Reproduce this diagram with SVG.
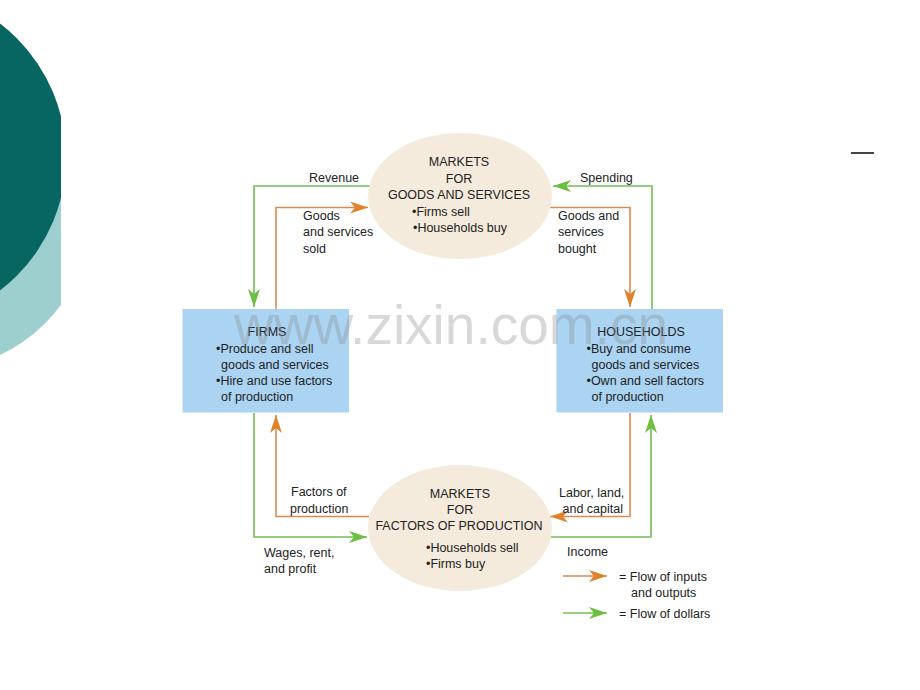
<svg xmlns="http://www.w3.org/2000/svg" width="920" height="690" viewBox="0 0 920 690">
<defs>
<style>
text{font-family:"Liberation Sans",Arial,sans-serif;font-size:12.5px;fill:#222}
.c{text-anchor:middle}
.ell{fill:#F4EBDC}
.box{fill:#ABD4F3}
.or{fill:none;stroke:#DB8B50;stroke-width:1.6}
.gr{fill:none;stroke:#74BF55;stroke-width:1.6}
.wm{font-size:55px;fill:#888;opacity:0.32}
</style>
<marker id="ao" markerUnits="userSpaceOnUse" markerWidth="19" markerHeight="13" refX="18" refY="6" orient="auto">
<path d="M0,0 L18,6 L0,12 L5,6 Z" fill="#E5802A"/>
</marker>
<marker id="ag" markerUnits="userSpaceOnUse" markerWidth="19" markerHeight="13" refX="18" refY="6" orient="auto">
<path d="M0,0 L18,6 L0,12 L5,6 Z" fill="#6CBF40"/>
</marker>
<clipPath id="clipL"><rect x="0" y="0" width="61" height="690"/></clipPath>
</defs>
<rect width="920" height="690" fill="#fff"/>
<g id="decoration" clip-path="url(#clipL)">
<circle cx="-66" cy="212.5" r="157" fill="#9DCFCE"/>
<circle cx="-102" cy="157" r="168" fill="#076662"/>
</g>
<line x1="851" y1="153" x2="874" y2="153" stroke="#444" stroke-width="2"/>

<g id="connectors">
<path class="gr" d="M370 186 H254 V307" marker-end="url(#ag)"/>
<path class="or" d="M276 309 V207.5 H368" marker-end="url(#ao)"/>
<path class="gr" d="M652 309 V186 H553" marker-end="url(#ag)"/>
<path class="or" d="M550 207.5 H630 V307" marker-end="url(#ao)"/>
<path class="or" d="M630 413 V516.5 H550" marker-end="url(#ao)"/>
<path class="or" d="M369 516.5 H276 V415" marker-end="url(#ao)"/>
<path class="gr" d="M254 413 V537 H367" marker-end="url(#ag)"/>
<path class="gr" d="M551 537 H651 V415" marker-end="url(#ag)"/>
</g>

<g id="markets-goods">
<ellipse class="ell" cx="460" cy="196" rx="92" ry="63"/>
<text class="c" x="459" y="166">MARKETS</text>
<text class="c" x="459" y="182.5">FOR</text>
<text class="c" x="459" y="199">GOODS AND SERVICES</text>
<text x="412" y="215.5">•Firms sell</text>
<text x="413" y="231.5">•Households buy</text>
</g>

<g id="markets-factors">
<ellipse class="ell" cx="460" cy="528" rx="92" ry="63"/>
<text class="c" x="460" y="497.5">MARKETS</text>
<text class="c" x="460" y="513.5">FOR</text>
<text class="c" x="459" y="529.5">FACTORS OF PRODUCTION</text>
<text x="426" y="551.5">•Households sell</text>
<text x="426" y="567.5">•Firms buy</text>
</g>

<g id="firms">
<rect class="box" x="182.5" y="309" width="166.5" height="103.5"/>
<text class="c" x="267" y="336">FIRMS</text>
<text x="216" y="352.5">•Produce and sell</text>
<text x="221" y="368.5">goods and services</text>
<text x="216" y="385">•Hire and use factors</text>
<text x="221" y="401">of production</text>
</g>

<g id="households">
<rect class="box" x="556.5" y="309" width="166.5" height="103.5"/>
<text class="c" x="641" y="336">HOUSEHOLDS</text>
<text x="586.5" y="352.5">•Buy and consume</text>
<text x="591.5" y="368.5">goods and services</text>
<text x="586.5" y="385">•Own and sell factors</text>
<text x="591.5" y="401">of production</text>
</g>

<g id="labels">
<text x="309" y="181.5">Revenue</text>
<text x="580" y="181.5">Spending</text>
<text x="303" y="219.5">Goods</text>
<text x="303" y="236">and services</text>
<text x="303" y="252.5">sold</text>
<text x="558" y="219.5">Goods and</text>
<text x="558" y="236">services</text>
<text x="558" y="252.5">bought</text>
<text x="291" y="496">Factors of</text>
<text x="290" y="512.5">production</text>
<text x="559" y="496.5">Labor, land,</text>
<text x="562.5" y="513">and capital</text>
<text x="264" y="556.5">Wages, rent,</text>
<text x="264" y="573">and profit</text>
<text x="567" y="555.5">Income</text>
</g>

<g id="legend">
<line class="or" x1="563" y1="576" x2="607" y2="576" marker-end="url(#ao)"/>
<text x="619" y="581">= Flow of inputs</text>
<text x="631" y="597">and outputs</text>
<line class="gr" x1="563" y1="613" x2="607" y2="613" marker-end="url(#ag)"/>
<text x="619" y="617.5">= Flow of dollars</text>
</g>

<text class="wm" x="234" y="344">www.zixin.com.cn</text>
</svg>
